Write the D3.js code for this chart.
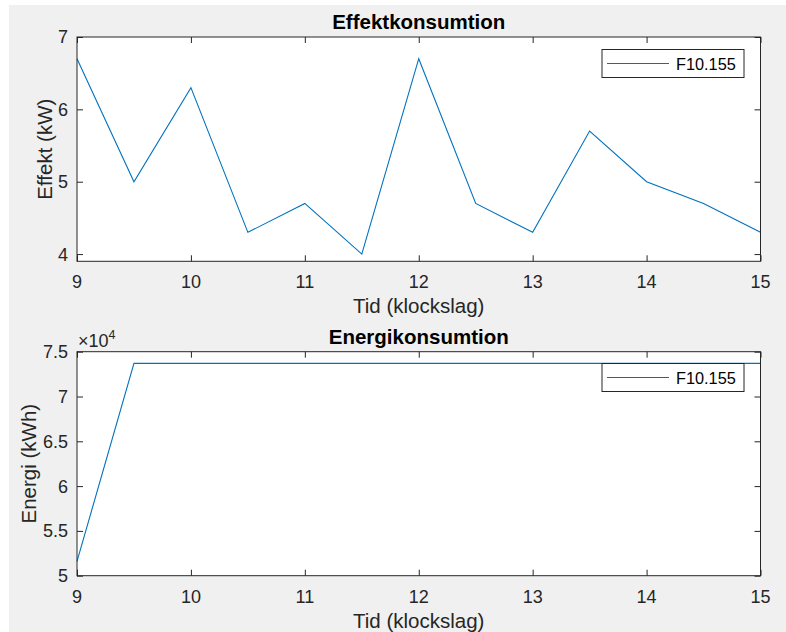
<!DOCTYPE html>
<html>
<head>
<meta charset="utf-8">
<script src="https://cdn.jsdelivr.net/npm/d3@7"></script>
<style>
  html, body { margin: 0; padding: 0; background: #ffffff; }
  svg { display: block; }
  text { font-family: "Liberation Sans", Arial, Helvetica, sans-serif; }
</style>
</head>
<body>
<script>
// Time of day (hours) for each sample
const hours = [9, 9.5, 10, 10.5, 11, 11.5, 12, 12.5, 13, 13.5, 14, 14.5, 15];
// Power consumption (kW)
const effekt = [6.7, 5.0, 6.3, 4.3, 4.7, 4.0, 6.7, 4.7, 4.3, 5.7, 5.0, 4.7, 4.3];
// Energy consumption (kWh)
const energi = [51600, 73700, 73700, 73700, 73700, 73700, 73700, 73700, 73700, 73700, 73700, 73700, 73700];

const seriesName = "F10.155";
const xTicks = [9, 10, 11, 12, 13, 14, 15];
const effektTicks = [4, 5, 6, 7];
const energiTicks = [50000, 55000, 60000, 65000, 70000, 75000];

const W = 786, H = 632;
const AX = "#262626", LINE = "#0072BD";

const svg = d3.select("body").append("svg").attr("width", W).attr("height", H);
svg.append("rect").attr("x", 9).attr("y", 5).attr("width", W - 9).attr("height", H - 5).attr("fill", "#f0f0f0");

function panel(opts) {
  const { top, bottom, yDomain, yTicks, yFmt, values, title, ylabel, titleY, xlabelY, xtickY, ylabelX, legendY } = opts;
  const left = 77, right = 760.5;
  const x = d3.scaleLinear().domain([9, 15]).range([left, right]);
  const y = d3.scaleLinear().domain(yDomain).range([bottom, top]);
  const g = svg.append("g");

  g.append("rect").attr("x", left).attr("y", top).attr("width", right - left).attr("height", bottom - top).attr("fill", "#fff");

  // inward ticks on all four sides
  const tl = 6;
  const bAxis = d3.axisBottom(x).tickValues(xTicks).tickSize(-tl).tickFormat("");
  const tAxis = d3.axisTop(x).tickValues(xTicks).tickSize(-tl).tickFormat("");
  const lAxis = d3.axisLeft(y).tickValues(yTicks).tickSize(-tl).tickFormat("");
  const rAxis = d3.axisRight(y).tickValues(yTicks).tickSize(-tl).tickFormat("");
  [[bAxis, `translate(0,${bottom})`], [tAxis, `translate(0,${top})`],
   [lAxis, `translate(${left},0)`], [rAxis, `translate(${right},0)`]].forEach(([a, t]) => {
    const ag = g.append("g").attr("transform", t).call(a);
    ag.select(".domain").remove();
    ag.selectAll("line").attr("stroke", AX).attr("stroke-width", 1);
  });

  // data line
  const line = d3.line().x((d, i) => x(hours[i])).y(d => y(d));
  g.append("path").datum(values).attr("d", line).attr("fill", "none").attr("stroke", LINE).attr("stroke-width", 1.1);

  // box
  g.append("rect").attr("x", left).attr("y", top).attr("width", right - left).attr("height", bottom - top)
    .attr("fill", "none").attr("stroke", AX).attr("stroke-width", 1);

  // tick labels
  g.selectAll(".xt").data(xTicks).enter().append("text")
    .attr("x", d => x(d)).attr("y", xtickY).attr("text-anchor", "middle")
    .attr("font-size", 18).attr("fill", AX).text(d => d);
  g.selectAll(".yt").data(yTicks).enter().append("text")
    .attr("x", left - 9).attr("y", d => y(d)).attr("dy", "0.36em").attr("text-anchor", "end")
    .attr("font-size", 18).attr("fill", AX).text(yFmt);

  // title and axis labels
  const cx = (left + right) / 2;
  g.append("text").attr("x", cx).attr("y", titleY).attr("text-anchor", "middle")
    .attr("font-size", 20.5).attr("font-weight", "bold").attr("fill", "#000").text(title);
  g.append("text").attr("x", cx).attr("y", xlabelY).attr("text-anchor", "middle")
    .attr("font-size", 20.5).attr("fill", AX).text("Tid (klockslag)");
  g.append("text").attr("transform", `translate(${ylabelX},${(top + bottom) / 2}) rotate(-90)`)
    .attr("text-anchor", "middle").attr("font-size", 20.5).attr("fill", AX).text(ylabel);

  // legend
  const lg = g.append("g");
  lg.append("rect").attr("x", 602).attr("y", legendY).attr("width", 142).attr("height", 28)
    .attr("fill", "#fff").attr("stroke", AX).attr("stroke-width", 1);
  lg.append("line").attr("x1", 607).attr("x2", 669).attr("y1", legendY + 14).attr("y2", legendY + 14)
    .attr("stroke", LINE).attr("stroke-width", 1.1);
  lg.append("text").attr("x", 676).attr("y", legendY + 20).attr("font-size", 16.3).attr("fill", "#000").text(seriesName);

  return { x, y, g, left, top };
}

panel({
  top: 37, bottom: 261.3, yDomain: [3.9, 7], yTicks: effektTicks, yFmt: d => d,
  values: effekt, title: "Effektkonsumtion", ylabel: "Effekt (kW)",
  titleY: 29, xlabelY: 313, xtickY: 288, ylabelX: 52, legendY: 49.5
});

const p2 = panel({
  top: 351.7, bottom: 575.7, yDomain: [50000, 75000], yTicks: energiTicks, yFmt: d => d / 1e4,
  values: energi, title: "Energikonsumtion", ylabel: "Energi (kWh)",
  titleY: 343.5, xlabelY: 627.5, xtickY: 603, ylabelX: 36, legendY: 363.5
});

// exponent multiplier for the energy axis
const ex = p2.g.append("text").attr("x", 78).attr("y", 347).attr("font-size", 18).attr("fill", AX);
ex.append("tspan").text("\u00d710");
ex.append("tspan").attr("font-size", 12.5).attr("dy", -8).text("4");
</script>
</body>
</html>
